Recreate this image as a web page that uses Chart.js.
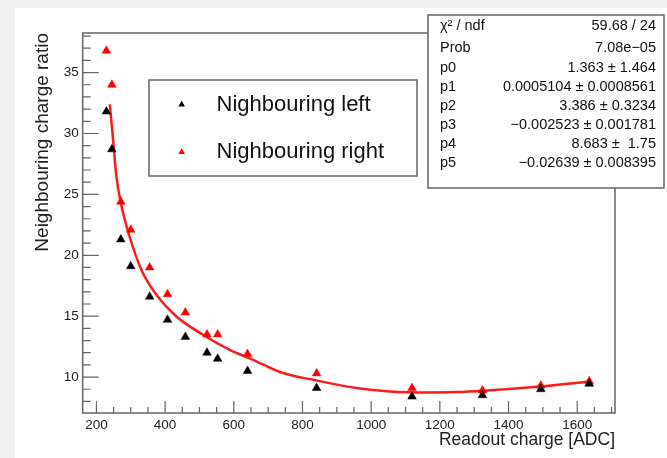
<!DOCTYPE html>
<html>
<head>
<meta charset="utf-8">
<script src="https://cdn.jsdelivr.net/npm/chart.js@4"></script>
<style>
  html, body { margin: 0; padding: 0; background: #f0f0f0; }
  .wrap { position: absolute; left: 15px; top: 8px; width: 652px; height: 450px; background: #fff; }
</style>
</head>
<body>
<div class="wrap"><canvas id="c" width="652" height="450"></canvas></div>
<script>
// readout charge [ADC] for each measurement
const charge = [229, 245, 271, 300, 355, 407, 459, 522, 553, 640, 841, 1119, 1324, 1494, 1635];
const ratioLeft = [31.8, 28.7, 21.3, 19.1, 16.6, 14.7, 13.3, 12.0, 11.5, 10.5, 9.1, 8.4, 8.5, 9.0, 9.45];
const ratioRight = [36.8, 34.0, 24.4, 22.1, 19.0, 16.8, 15.3, 13.5, 13.5, 11.9, 10.3, 9.1, 8.9, 9.3, 9.65];

// fitted curve
const fitX = [239, 250, 258, 271, 297, 331, 375, 433, 510, 588, 656, 734, 841, 957, 1054, 1171, 1249, 1326, 1491, 1637];
const fitY = [32.4, 29.0, 26.5, 24.3, 21.5, 18.8, 16.75, 14.97, 13.48, 12.24, 11.42, 10.42, 9.72, 9.1, 8.82, 8.74, 8.77, 8.88, 9.23, 9.64];

const xTicks = [200, 400, 600, 800, 1000, 1200, 1400, 1600];
const yTicks = [10, 15, 20, 25, 30, 35];

const statNames = ["χ² / ndf", "Prob", "p0", "p1", "p2", "p3", "p4", "p5"];
const statValues = ["59.68 / 24", "7.08e−05", "1.363 ± 1.464", "0.0005104 ± 0.0008561",
  "3.386 ± 0.3234", "−0.002523 ± 0.001781", "8.683 ±  1.75", "−0.02639 ± 0.008395"];

const FONT = "'Liberation Sans', Arial, sans-serif";
const FRAME = "#666";

const frameTicks = {
    id: "frameTicks",
    afterDatasetsDraw(chart) {
        const { ctx, chartArea: a, scales } = chart;
        const xs = scales.x, ys = scales.y;
        ctx.save();
        ctx.strokeStyle = FRAME;
        ctx.lineWidth = 1.5;
        ctx.strokeRect(a.left, a.top, a.right - a.left, a.bottom - a.top);
        ctx.lineWidth = 1.2;
        ctx.beginPath();
        for (let v = 200; v <= 1700; v += 50) {
            const px = xs.getPixelForValue(v);
            const len = xTicks.includes(v) ? 12 : 6;
            ctx.moveTo(px, a.bottom);
            ctx.lineTo(px, a.bottom - len);
        }
        for (let v = 8; v <= 38; v++) {
            const py = ys.getPixelForValue(v);
            const len = yTicks.includes(v) ? 16 : 8;
            ctx.moveTo(a.left, py);
            ctx.lineTo(a.left + len, py);
        }
        ctx.stroke();
        ctx.restore();
    },
    afterDraw(chart) {
        const { ctx } = chart;
        ctx.save();
        // legend box
        ctx.fillStyle = "#fff";
        ctx.fillRect(134, 72, 268, 96);
        ctx.strokeStyle = FRAME;
        ctx.lineWidth = 1.5;
        ctx.strokeRect(134, 72, 268, 96);
        const shown = chart.data.datasets.filter(d => d.label);
        shown.forEach((d, i) => {
            const y = 96.5 + i * 47.5;
            ctx.fillStyle = d.backgroundColor;
            ctx.beginPath();
            const r = 3.8;
            ctx.moveTo(166.7, y - r);
            ctx.lineTo(166.7 + r * 0.866, y + r / 2);
            ctx.lineTo(166.7 - r * 0.866, y + r / 2);
            ctx.closePath();
            ctx.fill();
            ctx.fillStyle = "#111";
            ctx.font = "22px " + FONT;
            ctx.textAlign = "left";
            ctx.textBaseline = "middle";
            ctx.fillText(d.label, 201.5, y);
        });
        // stats box
        ctx.fillStyle = "#fff";
        ctx.fillRect(413, 7, 236, 173);
        ctx.strokeStyle = FRAME;
        ctx.strokeRect(413, 7, 236, 173);
        ctx.font = "14.5px " + FONT;
        ctx.fillStyle = "#111";
        ctx.textBaseline = "middle";
        const rowY = [18, 40, 60, 79, 98, 117, 136, 155];
        statNames.forEach((n, i) => {
            ctx.textAlign = "left";
            ctx.fillText(n, 425, rowY[i]);
            ctx.textAlign = "right";
            ctx.fillText(statValues[i], 641, rowY[i]);
        });
        ctx.restore();
    }
};

const pts = (xs, ys) => xs.map((x, i) => ({ x: x, y: ys[i] }));

new Chart(document.getElementById("c"), {
    type: "scatter",
    data: {
        datasets: [
            {
                label: "Nighbouring left",
                data: pts(charge, ratioLeft),
                pointStyle: "triangle",
                pointRadius: 5,
                backgroundColor: "#000",
                borderColor: "#000",
                borderWidth: 0.5,
            },
            {
                label: "Nighbouring right",
                data: pts(charge, ratioRight),
                pointStyle: "triangle",
                pointRadius: 5,
                backgroundColor: "#ff0000",
                borderColor: "#ff0000",
                borderWidth: 0.5,
            },
            {
                label: "",
                data: pts(fitX, fitY),
                showLine: true,
                pointRadius: 0,
                borderColor: "#ff1a1a",
                borderWidth: 2.5,
                cubicInterpolationMode: "monotone",
            },
        ],
    },
    options: {
        responsive: false,
        animation: false,
        devicePixelRatio: 1,
        layout: { padding: { left: 0, top: 25, right: 52, bottom: 0 } },
        plugins: { legend: false, tooltip: { enabled: false } },
        scales: {
            x: {
                type: "linear",
                position: "bottom",
                min: 160,
                max: 1710,
                afterFit: s => { s.height = 45; },
                afterBuildTicks: s => { s.ticks = xTicks.map(v => ({ value: v })); },
                grid: { display: false, drawTicks: false },
                border: { display: false },
                ticks: {
                    font: { family: FONT, size: 13.5 }, color: "#222", padding: 4,
                    maxRotation: 0, autoSkip: false, callback: v => String(v),
                },
                title: {
                    display: true,
                    text: "Readout charge [ADC]",
                    align: "end",
                    color: "#222",
                    font: { family: FONT, size: 17.5 },
                    padding: { top: 0, bottom: 7 },
                },
            },
            y: {
                type: "linear",
                min: 7.05,
                max: 38.25,
                afterFit: s => { s.width = 67.7; },
                afterBuildTicks: s => { s.ticks = yTicks.map(v => ({ value: v })); },
                grid: { display: false, drawTicks: false },
                border: { display: false },
                ticks: { font: { family: FONT, size: 13.5 }, color: "#222", padding: 4, autoSkip: false, callback: v => String(v) },
                title: {
                    display: true,
                    text: "Neighbouring charge ratio",
                    align: "end",
                    color: "#222",
                    font: { family: FONT, size: 19 },
                    padding: { top: 16, bottom: 0 },
                },
            },
        },
    },
    plugins: [frameTicks],
});
</script>
</body>
</html>
